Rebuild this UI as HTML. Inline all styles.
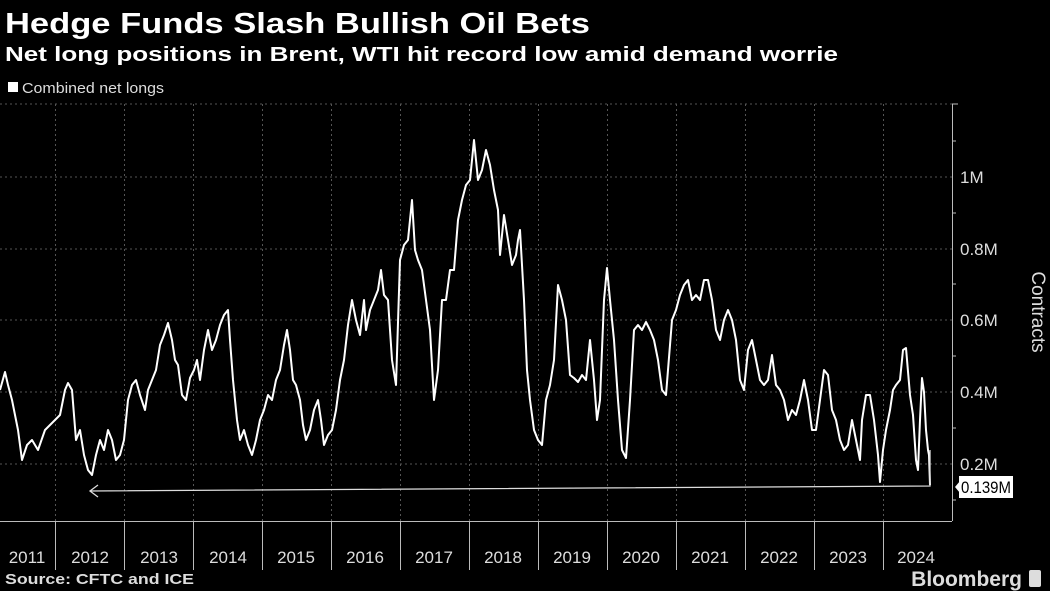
<!DOCTYPE html>
<html><head><meta charset="utf-8"><style>
body{margin:0;background:#000;width:1050px;height:591px;overflow:hidden;font-family:"Liberation Sans",sans-serif;color:#fff}
</style></head><body>
<svg width="1050" height="591" xmlns="http://www.w3.org/2000/svg" style="position:absolute;left:0;top:0">
<text x="5" y="33" font-size="29" font-weight="bold" fill="#fff" textLength="585" lengthAdjust="spacingAndGlyphs">Hedge Funds Slash Bullish Oil Bets</text>
<text x="5" y="61" font-size="20" font-weight="bold" fill="#fff" textLength="833" lengthAdjust="spacingAndGlyphs">Net long positions in Brent, WTI hit record low amid demand worrie</text>
<rect x="8" y="82" width="10" height="10" fill="#fff"/>
<text x="22" y="93" font-size="15" fill="#ddd" textLength="142" lengthAdjust="spacingAndGlyphs">Combined net longs</text>
<g stroke="#555" stroke-dasharray="2,3" stroke-width="1">
<line x1="0" y1="177" x2="952" y2="177"/><line x1="0" y1="249" x2="952" y2="249"/><line x1="0" y1="320" x2="952" y2="320"/><line x1="0" y1="392" x2="952" y2="392"/><line x1="0" y1="464" x2="952" y2="464"/><line x1="0" y1="104" x2="952" y2="104"/>
<line x1="55.5" y1="104" x2="55.5" y2="521"/><line x1="124.5" y1="104" x2="124.5" y2="521"/><line x1="193.5" y1="104" x2="193.5" y2="521"/><line x1="262.5" y1="104" x2="262.5" y2="521"/><line x1="331.5" y1="104" x2="331.5" y2="521"/><line x1="400.5" y1="104" x2="400.5" y2="521"/><line x1="469.5" y1="104" x2="469.5" y2="521"/><line x1="538.5" y1="104" x2="538.5" y2="521"/><line x1="607.5" y1="104" x2="607.5" y2="521"/><line x1="676.5" y1="104" x2="676.5" y2="521"/><line x1="745.5" y1="104" x2="745.5" y2="521"/><line x1="814.5" y1="104" x2="814.5" y2="521"/><line x1="883.5" y1="104" x2="883.5" y2="521"/>
</g>
<g stroke="#bbb" stroke-width="1">
<line x1="0" y1="521.5" x2="952" y2="521.5"/><line x1="952.5" y1="104" x2="952.5" y2="521"/>
<line x1="55.5" y1="521" x2="55.5" y2="570"/><line x1="124.5" y1="521" x2="124.5" y2="570"/><line x1="193.5" y1="521" x2="193.5" y2="570"/><line x1="262.5" y1="521" x2="262.5" y2="570"/><line x1="331.5" y1="521" x2="331.5" y2="570"/><line x1="400.5" y1="521" x2="400.5" y2="570"/><line x1="469.5" y1="521" x2="469.5" y2="570"/><line x1="538.5" y1="521" x2="538.5" y2="570"/><line x1="607.5" y1="521" x2="607.5" y2="570"/><line x1="676.5" y1="521" x2="676.5" y2="570"/><line x1="745.5" y1="521" x2="745.5" y2="570"/><line x1="814.5" y1="521" x2="814.5" y2="570"/><line x1="883.5" y1="521" x2="883.5" y2="570"/>
<line x1="952" y1="104" x2="958" y2="104"/><line x1="952" y1="141" x2="956" y2="141"/><line x1="952" y1="213" x2="956" y2="213"/><line x1="952" y1="284" x2="956" y2="284"/><line x1="952" y1="356" x2="956" y2="356"/><line x1="952" y1="428" x2="956" y2="428"/><line x1="952" y1="500" x2="956" y2="500"/>
</g>
<g fill="#ddd" font-size="17">
<text x="960" y="183">1M</text><text x="960" y="255">0.8M</text><text x="960" y="326">0.6M</text><text x="960" y="398">0.4M</text><text x="960" y="470">0.2M</text>
</g>
<text transform="translate(1032,312) rotate(90)" font-size="19" fill="#ddd" text-anchor="middle">Contracts</text>
<polyline fill="none" stroke="#fff" stroke-width="2" stroke-linejoin="round" points="0,390 5,372 8,385 12,400 18,430 22,460 27,445 32,440 38,450 45,430 50,425 55,420 60,415 65,390 68,383 72,390 76,440 80,430 84,455 88,470 92,475 96,455 100,440 104,450 108,430 112,440 116,460 120,455 124,440 128,400 132,385 136,380 140,395 145,410 148,390 152,380 156,370 160,345 164,335 168,323 172,340 175,360 178,365 182,395 186,400 190,378 194,370 197,360 200,380 204,350 208,330 212,350 216,340 220,325 224,315 228,310 230,340 233,380 237,420 240,440 244,430 248,445 252,455 256,440 260,420 264,410 268,395 272,400 276,380 280,370 284,345 287,330 290,350 293,380 296,385 300,400 303,425 306,440 310,430 314,410 318,400 321,420 324,445 328,435 332,430 336,410 340,380 344,360 348,325 352,300 356,320 360,335 364,300 366,330 370,310 374,300 378,290 381,270 384,295 388,300 392,360 396,385 400,260 404,245 408,240 412,200 415,250 418,260 422,270 426,300 430,330 434,400 438,370 442,300 446,300 450,270 454,270 458,220 462,200 466,185 470,180 474,140 478,180 482,170 486,150 490,165 494,190 498,210 500,255 504,215 508,240 512,265 516,255 518,240 520,230 524,300 527,370 530,400 534,430 538,440 542,445 546,400 550,385 554,360 558,285 562,300 566,320 570,375 574,378 578,382 582,375 586,380 590,340 594,380 597,420 600,400 604,300 607,268 610,300 614,340 618,400 622,450 626,458 630,400 634,330 638,325 642,330 646,322 650,330 654,340 658,360 662,390 666,395 668,370 672,320 676,310 680,295 684,285 688,280 692,300 696,295 700,300 704,280 708,280 712,300 716,330 720,340 724,320 728,310 732,320 736,340 740,380 744,390 748,350 752,340 756,360 760,380 764,385 768,380 772,355 776,385 780,390 784,400 788,420 792,410 796,415 800,400 804,380 808,400 812,430 816,430 820,400 824,370 828,375 832,410 836,420 840,440 844,450 848,445 852,420 856,440 860,460 862,420 866,395 870,395 874,420 878,455 880,482 883,450 886,430 890,410 893,390 896,385 900,380 903,350 906,348 910,395 913,415 916,460 918,470 920,420 922,378 924,392 926,430 928,450 929,455 930,485"/>
<g stroke="#ddd" stroke-width="1.3" fill="none">
<polyline points="930,450 930,486 90,491"/>
<polyline points="98,485 90,491 98,497"/>
</g>
<polygon points="955,487 960,481 960,493" fill="#fff"/>
<rect x="959" y="476" width="54" height="22" fill="#fff"/>
<text x="961" y="493" font-size="17" fill="#000" textLength="50" lengthAdjust="spacingAndGlyphs">0.139M</text>
<g fill="#ddd" font-size="17" text-anchor="middle">
<text x="27" y="563">2011</text><text x="90" y="563">2012</text><text x="159" y="563">2013</text><text x="228" y="563">2014</text><text x="296" y="563">2015</text><text x="365" y="563">2016</text><text x="434" y="563">2017</text><text x="503" y="563">2018</text><text x="572" y="563">2019</text><text x="641" y="563">2020</text><text x="710" y="563">2021</text><text x="779" y="563">2022</text><text x="848" y="563">2023</text><text x="916" y="563">2024</text>
</g>
<text x="5" y="584" font-size="15" font-weight="bold" fill="#ddd" textLength="189" lengthAdjust="spacingAndGlyphs">Source: CFTC and ICE</text>
<text x="1022" y="586" font-size="21" font-weight="bold" fill="#ddd" text-anchor="end">Bloomberg</text>
<rect x="1029" y="570" width="12" height="17" rx="2" fill="#ddd"/>
</svg>
</body></html>
